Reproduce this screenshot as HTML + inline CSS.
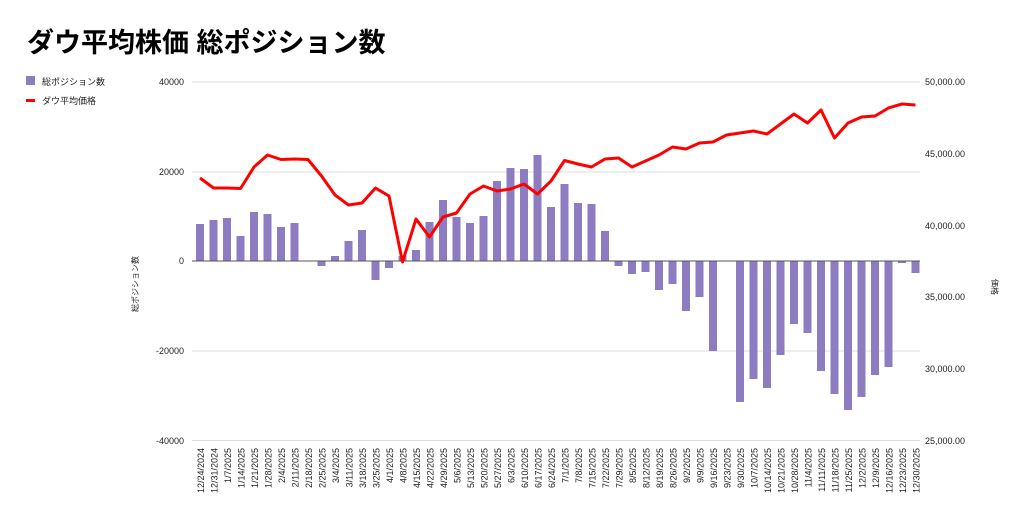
<!DOCTYPE html>
<html><head><meta charset="utf-8"><style>
body{margin:0;background:#fff;width:1024px;height:522px;overflow:hidden}
svg{display:block;font-family:"Liberation Sans","Noto Sans CJK JP",sans-serif}
</style></head><body>
<svg width="1024" height="522" viewBox="0 0 1024 522">
<text x="27" y="52" font-size="27" font-weight="bold" fill="#000">ダウ平均株価 総ポジション数</text>
<rect x="26" y="76" width="9" height="9" fill="#8e7cc3"/>
<text x="42" y="85" font-size="9" fill="#222">総ポジション数</text>
<rect x="26" y="99" width="9" height="3" fill="#f00"/>
<text x="42" y="104" font-size="9" fill="#222">ダウ平均価格</text>
<g stroke="#ddd" stroke-width="1">
<line x1="192" y1="82" x2="920" y2="82"/><line x1="192" y1="172" x2="920" y2="172"/>
<line x1="192" y1="351" x2="920" y2="351"/><line x1="192" y1="440.5" x2="920" y2="440.5"/>
</g>
<g font-size="9" fill="#222" text-anchor="end">
<text x="184" y="85">40000</text><text x="184" y="175">20000</text><text x="184" y="264">0</text>
<text x="184" y="354">-20000</text><text x="184" y="444">-40000</text>
</g>
<g font-size="9" fill="#222">
<text x="925" y="85">50,000.00</text><text x="925" y="157">45,000.00</text><text x="925" y="229">40,000.00</text>
<text x="925" y="300">35,000.00</text><text x="925" y="372">30,000.00</text><text x="925" y="444">25,000.00</text>
</g>
<text transform="translate(138,284) rotate(-90)" font-size="8" fill="#222" text-anchor="middle">総ポジション数</text>
<text transform="translate(992,287) rotate(90)" font-size="8" fill="#222" text-anchor="middle">価格</text>
<g fill="#8e7cc3">
<rect x="196" y="224" width="8" height="37"/><rect x="209.5" y="220" width="8" height="41"/><rect x="223" y="218" width="8" height="43"/><rect x="236.5" y="236" width="8" height="25"/><rect x="250" y="212" width="8" height="49"/><rect x="263.5" y="214" width="8" height="47"/><rect x="277" y="227" width="8" height="34"/><rect x="290.5" y="223" width="8" height="38"/>
<rect x="317.5" y="261" width="8" height="5"/><rect x="331" y="256" width="8" height="5"/><rect x="344.5" y="241" width="8" height="20"/><rect x="358" y="230" width="8" height="31"/><rect x="371.5" y="261" width="8" height="19"/><rect x="385" y="261" width="8" height="7"/><rect x="398.5" y="256" width="8" height="5"/><rect x="412" y="250" width="8" height="11"/><rect x="425.5" y="222" width="8" height="39"/><rect x="439" y="200" width="8" height="61"/><rect x="452.5" y="217" width="8" height="44"/><rect x="466" y="223" width="8" height="38"/><rect x="479.5" y="216" width="8" height="45"/><rect x="493" y="181" width="8" height="80"/><rect x="506.5" y="168" width="8" height="93"/><rect x="520" y="169" width="8" height="92"/><rect x="533.5" y="155" width="8" height="106"/><rect x="547" y="207" width="8" height="54"/><rect x="560.5" y="184" width="8" height="77"/><rect x="574" y="203" width="8" height="58"/><rect x="587.5" y="204" width="8" height="57"/><rect x="601" y="231" width="8" height="30"/>
<rect x="614.5" y="261" width="8" height="5"/><rect x="628" y="261" width="8" height="13"/><rect x="641.5" y="261" width="8" height="11"/><rect x="655" y="261" width="8" height="29"/><rect x="668.5" y="261" width="8" height="23"/><rect x="682" y="261" width="8" height="50"/><rect x="695.5" y="261" width="8" height="36"/><rect x="709" y="261" width="8" height="90"/>
<rect x="736" y="261" width="8" height="141"/><rect x="749.5" y="261" width="8" height="118"/><rect x="763" y="261" width="8" height="127"/><rect x="776.5" y="261" width="8" height="94"/><rect x="790" y="261" width="8" height="63"/><rect x="803.5" y="261" width="8" height="72"/><rect x="817" y="261" width="8" height="110"/><rect x="830.5" y="261" width="8" height="133"/><rect x="844" y="261" width="8" height="149"/><rect x="857.5" y="261" width="8" height="136"/><rect x="871" y="261" width="8" height="114"/><rect x="884.5" y="261" width="8" height="106"/><rect x="898" y="261" width="8" height="2"/><rect x="911.5" y="261" width="8" height="12"/>
</g>
<line x1="192" y1="261" x2="920" y2="261" stroke="#555" stroke-width="1"/>
<polyline fill="none" stroke="#f00" stroke-width="3" stroke-linejoin="round" points="200,178 213.5,188 227,188 240.5,188.5 254,167 267.5,155 281,159.5 294.5,159 308,159.5 321.5,176 335,195 348.5,205 362,203 375.5,188 389,196 402.5,262 416,219 429.5,237 443,217 456.5,213 470,194 483.5,186 497,191 510.5,189 524,184 537.5,194 551,181 564.5,160.5 578,164 591.5,167 605,159 618.5,158 632,167 645.5,161 659,155 672.5,147 686,149 699.5,143 713,142 726.5,135 740,133 753.5,131 767,134 780.5,124 794,114 807.5,123 821,110 834.5,138 848,123 861.5,117 875,116 888.5,108 902,104 915.5,105"/>
<g font-size="9" fill="#222" text-anchor="end">
<text transform="translate(204,448) rotate(-90)">12/24/2024</text><text transform="translate(217.5,448) rotate(-90)">12/31/2024</text><text transform="translate(231,448) rotate(-90)">1/7/2025</text><text transform="translate(244.5,448) rotate(-90)">1/14/2025</text><text transform="translate(258,448) rotate(-90)">1/21/2025</text><text transform="translate(271.5,448) rotate(-90)">1/28/2025</text><text transform="translate(285,448) rotate(-90)">2/4/2025</text><text transform="translate(298.5,448) rotate(-90)">2/11/2025</text><text transform="translate(312,448) rotate(-90)">2/18/2025</text><text transform="translate(325.5,448) rotate(-90)">2/25/2025</text><text transform="translate(339,448) rotate(-90)">3/4/2025</text><text transform="translate(352.5,448) rotate(-90)">3/11/2025</text><text transform="translate(366,448) rotate(-90)">3/18/2025</text><text transform="translate(379.5,448) rotate(-90)">3/25/2025</text><text transform="translate(393,448) rotate(-90)">4/1/2025</text><text transform="translate(406.5,448) rotate(-90)">4/8/2025</text><text transform="translate(420,448) rotate(-90)">4/15/2025</text><text transform="translate(433.5,448) rotate(-90)">4/22/2025</text><text transform="translate(447,448) rotate(-90)">4/29/2025</text><text transform="translate(460.5,448) rotate(-90)">5/6/2025</text><text transform="translate(474,448) rotate(-90)">5/13/2025</text><text transform="translate(487.5,448) rotate(-90)">5/20/2025</text><text transform="translate(501,448) rotate(-90)">5/27/2025</text><text transform="translate(514.5,448) rotate(-90)">6/3/2025</text><text transform="translate(528,448) rotate(-90)">6/10/2025</text><text transform="translate(541.5,448) rotate(-90)">6/17/2025</text><text transform="translate(555,448) rotate(-90)">6/24/2025</text><text transform="translate(568.5,448) rotate(-90)">7/1/2025</text><text transform="translate(582,448) rotate(-90)">7/8/2025</text><text transform="translate(595.5,448) rotate(-90)">7/15/2025</text><text transform="translate(609,448) rotate(-90)">7/22/2025</text><text transform="translate(622.5,448) rotate(-90)">7/29/2025</text><text transform="translate(636,448) rotate(-90)">8/5/2025</text><text transform="translate(649.5,448) rotate(-90)">8/12/2025</text><text transform="translate(663,448) rotate(-90)">8/19/2025</text><text transform="translate(676.5,448) rotate(-90)">8/26/2025</text><text transform="translate(690,448) rotate(-90)">9/2/2025</text><text transform="translate(703.5,448) rotate(-90)">9/9/2025</text><text transform="translate(717,448) rotate(-90)">9/16/2025</text><text transform="translate(730.5,448) rotate(-90)">9/23/2025</text><text transform="translate(744,448) rotate(-90)">9/30/2025</text><text transform="translate(757.5,448) rotate(-90)">10/7/2025</text><text transform="translate(771,448) rotate(-90)">10/14/2025</text><text transform="translate(784.5,448) rotate(-90)">10/21/2025</text><text transform="translate(798,448) rotate(-90)">10/28/2025</text><text transform="translate(811.5,448) rotate(-90)">11/4/2025</text><text transform="translate(825,448) rotate(-90)">11/11/2025</text><text transform="translate(838.5,448) rotate(-90)">11/18/2025</text><text transform="translate(852,448) rotate(-90)">11/25/2025</text><text transform="translate(865.5,448) rotate(-90)">12/2/2025</text><text transform="translate(879,448) rotate(-90)">12/9/2025</text><text transform="translate(892.5,448) rotate(-90)">12/16/2025</text><text transform="translate(906,448) rotate(-90)">12/23/2025</text><text transform="translate(919.5,448) rotate(-90)">12/30/2025</text>
</g>
</svg>
</body></html>
